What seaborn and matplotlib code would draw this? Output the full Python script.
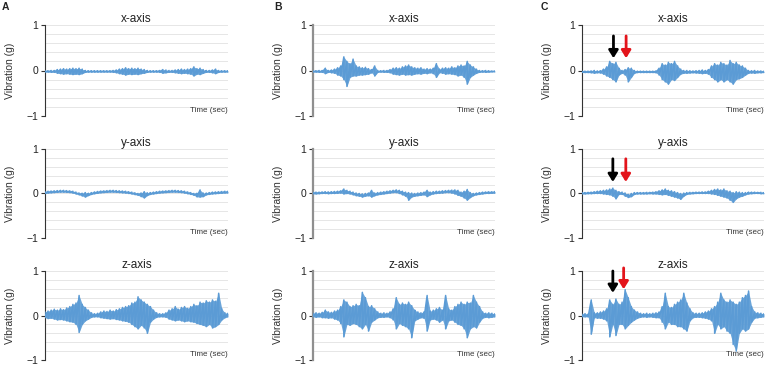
import numpy as np
import pandas as pd
import matplotlib
matplotlib.use("Agg")
import matplotlib.pyplot as plt
import seaborn as sns

# ---------------- data: peak (hi) / trough (lo) readings, 60 windows per trace ----------------
A_x_hi = [-.005,-.005,0,0,.02,.03,.04,.03,.04,.05,.04,.05,.03,0,-.005,-.005,-.005,-.005,-.005,-.005,
          -.005,-.005,0,.01,.03,.04,.06,.04,.05,.04,.05,.03,.02,0,-.005,-.005,-.005,0,.02,.01,
          0,0,.01,.02,.03,.02,.03,.04,.08,.04,.05,.02,0,0,.01,.03,0,-.005,-.005,-.005]
A_x_lo = [-.035,-.035,-.04,-.04,-.06,-.07,-.08,-.07,-.08,-.09,-.08,-.09,-.07,-.04,-.035,-.035,-.035,-.035,-.035,-.035,
          -.035,-.035,-.04,-.05,-.07,-.08,-.1,-.08,-.09,-.08,-.09,-.07,-.06,-.04,-.035,-.035,-.035,-.04,-.06,-.05,
          -.04,-.04,-.05,-.06,-.07,-.06,-.07,-.08,-.12,-.08,-.09,-.06,-.04,-.04,-.05,-.07,-.04,-.035,-.035,-.035]

A_y_hi = [.04,.05,.055,.06,.065,.07,.07,.065,.06,.05,.03,.01,.005,.02,.005,.02,.035,.045,.055,.06,
          .065,.07,.07,.065,.06,.055,.05,.04,.03,.015,0,.01,.04,.015,.02,.03,.04,.05,.055,.06,
          .065,.07,.07,.065,.06,.05,.035,.02,0,.005,.08,.01,.01,.02,.03,.035,.04,.045,.05,.05]
A_y_lo = [0,.01,.015,.02,.025,.03,.03,.025,.02,.01,-.01,-.03,-.055,-.08,-.045,-.02,-.005,.005,.015,.02,
          .025,.03,.03,.025,.02,.015,.01,0,-.01,-.025,-.04,-.07,-.1,-.045,-.02,-.01,0,.01,.015,.02,
          .025,.03,.03,.025,.02,.01,-.005,-.02,-.04,-.075,-.08,-.07,-.03,-.02,-.01,-.005,0,.005,.01,.01]

A_z_hi = [.08,.1,.12,.14,.12,.15,.13,.17,.2,.25,.28,.45,.25,.18,.12,.06,.04,.05,.08,.1,
          .09,.12,.1,.13,.15,.18,.2,.22,.28,.3,.42,.35,.3,.25,.2,.12,.06,.04,.04,.06,
          .12,.15,.2,.14,.18,.2,.16,.2,.25,.22,.3,.28,.33,.3,.35,.32,.5,.15,.06,.05]
A_z_lo = [-.05,-.07,-.06,-.08,-.1,-.09,-.1,-.12,-.14,-.15,-.2,-.38,-.2,-.12,-.08,-.04,-.03,-.03,-.05,-.06,
          -.07,-.08,-.07,-.09,-.1,-.12,-.13,-.15,-.2,-.25,-.3,-.22,-.28,-.4,-.15,-.08,-.04,-.03,-.03,-.04,
          -.08,-.1,-.12,-.1,-.12,-.14,-.12,-.14,-.15,-.18,-.2,-.22,-.25,-.2,-.28,-.25,-.2,-.1,-.05,-.03]

B_x_hi = [-.005,-.005,0,0,.05,0,.01,.03,.06,.1,.3,.2,.15,.25,.1,.08,.06,.07,.04,.02,
          .1,0,-.005,0,0,.02,.05,.06,.05,.08,.1,.12,.08,.06,.05,.06,.03,.04,.03,.05,
          .15,.03,.05,.06,.05,.08,.06,.1,.12,.1,.2,.12,.08,.03,0,-.005,0,-.005,-.01,-.01]
B_x_lo = [-.035,-.035,-.04,-.04,-.07,-.04,-.05,-.06,-.1,-.12,-.2,-.35,-.15,-.12,-.12,-.1,-.1,-.09,-.08,-.05,
          -.12,-.04,-.035,-.04,-.04,-.05,-.08,-.09,-.1,-.08,-.1,-.09,-.1,-.08,-.07,-.08,-.06,-.07,-.05,-.07,
          -.15,-.05,-.06,-.08,-.07,-.08,-.09,-.12,-.1,-.15,-.3,-.15,-.1,-.06,-.04,-.035,-.04,-.035,-.03,-.03]

B_y_hi = [.03,.03,.03,.035,.04,.035,.04,.045,.05,.06,.1,.07,.05,.03,.01,0,-.01,0,.01,.07,
          .01,.02,.03,.04,.05,.06,.07,.08,.07,.05,.03,.02,.01,0,.01,.02,.03,.07,.03,.04,
          .05,.05,.06,.065,.07,.075,.08,.07,.03,.05,.09,.02,0,.01,.02,.03,.035,.04,.04,.045]
B_y_lo = [-.01,-.01,-.005,0,0,-.005,0,0,.005,.01,-.01,0,-.01,-.03,-.05,-.06,-.08,-.06,-.05,-.08,
          -.05,-.03,-.02,-.01,0,.01,.02,.02,0,-.03,-.06,-.15,-.08,-.06,-.05,-.04,-.03,-.07,-.03,-.01,
          0,.005,.01,.02,.02,.01,-.01,-.04,-.06,-.1,-.15,-.09,-.05,-.03,-.02,-.01,0,0,.005,.005]

B_z_hi = [.05,.06,.05,.07,.12,.08,.07,.1,.12,.2,.35,.3,.2,.22,.25,.22,.52,.4,.2,.22,
          .15,.08,.05,.06,.05,.08,.15,.4,.25,.28,.25,.3,.22,.12,.08,.06,.08,.45,.1,.12,
          .15,.18,.12,.45,.15,.12,.2,.25,.3,.25,.3,.28,.45,.3,.2,.08,.05,.06,.05,.04]
B_z_lo = [-.03,-.04,-.03,-.05,-.05,-.06,-.05,-.08,-.1,-.18,-.48,-.2,-.22,-.18,-.2,-.25,-.3,-.2,-.35,-.15,
          -.1,-.05,-.04,-.04,-.03,-.05,-.1,-.3,-.18,-.22,-.25,-.3,-.5,-.12,-.08,-.05,-.06,-.35,-.1,-.08,
          -.1,-.15,-.1,-.3,-.12,-.1,-.15,-.2,-.22,-.3,-.5,-.3,-.25,-.28,-.15,-.06,-.04,-.05,-.04,-.03]

C_x_hi = [-.015,-.015,-.015,-.01,0,-.01,-.005,.03,.08,.2,.15,.18,.05,0,.02,.06,.05,0,-.015,-.015,
          -.015,-.015,-.015,-.015,-.01,.05,.15,.12,.18,.15,.2,.1,.03,0,0,-.005,-.01,-.005,0,.01,
          0,.02,.1,.15,.12,.18,.15,.12,.22,.15,.18,.12,.1,.05,0,-.005,0,-.01,-.01,-.015]
C_x_lo = [-.045,-.045,-.045,-.05,-.06,-.05,-.055,-.08,-.12,-.15,-.2,-.25,-.1,-.06,-.1,-.25,-.15,-.06,-.045,-.045,
          -.045,-.045,-.045,-.045,-.05,-.1,-.2,-.25,-.3,-.2,-.22,-.15,-.08,-.06,-.06,-.055,-.05,-.055,-.06,-.07,
          -.06,-.08,-.15,-.2,-.25,-.2,-.25,-.2,-.25,-.3,-.2,-.18,-.15,-.1,-.06,-.055,-.06,-.05,-.05,-.045]

C_y_hi = [.02,.02,.025,.03,.04,.05,.06,.07,.08,.1,.12,.07,.04,.03,.01,-.02,0,.02,.02,.02,
          .02,.025,.025,.03,.04,.06,.08,.1,.07,.06,.04,.02,0,.01,.02,.025,.025,.03,.03,.035,
          .035,.05,.07,.09,.1,.08,.1,.06,.05,.02,.04,.03,.02,.02,.03,.03,.03,.025,.025,.02]
C_y_lo = [-.01,-.01,-.005,-.005,0,0,0,-.01,-.02,-.03,-.06,-.12,-.02,-.02,-.06,-.09,-.07,-.02,-.01,-.01,
          -.01,-.01,-.005,-.01,-.01,-.02,-.03,-.02,-.04,-.06,-.08,-.1,-.13,-.06,-.02,-.01,-.005,0,0,0,
          0,0,-.01,-.02,-.04,-.06,-.08,-.1,-.15,-.2,-.12,-.08,-.06,-.03,-.01,-.005,0,0,-.005,-.005]

C_z_hi = [.03,.04,.03,.35,.06,.06,.08,.1,.15,.35,.25,.37,.25,.3,.58,.4,.2,.12,.08,.05,
          .04,.05,.04,.05,.06,.08,.2,.5,.2,.18,.25,.3,.35,.5,.28,.15,.06,.05,.05,.06,
          .08,.1,.15,.2,.3,.5,.35,.3,.35,.3,.25,.3,.4,.45,.55,.2,.08,.06,.05,.04]
C_z_lo = [-.03,-.03,-.03,-.42,-.05,-.06,-.06,-.08,-.12,-.48,-.2,-.45,-.2,-.2,-.3,-.22,-.15,-.1,-.06,-.04,
          -.03,-.04,-.03,-.04,-.05,-.05,-.15,-.3,-.15,-.2,-.2,-.25,-.25,-.3,-.35,-.12,-.05,-.04,-.04,-.05,
          -.06,-.08,-.12,-.4,-.2,-.3,-.25,-.35,-.4,-.65,-.8,-.4,-.3,-.35,-.3,-.15,-.06,-.05,-.04,-.03]

panel_letters = ["A", "B", "C"]
axis_names = ["x-axis", "y-axis", "z-axis"]
traces = {
    ("A", 0): (A_x_hi, A_x_lo), ("A", 1): (A_y_hi, A_y_lo), ("A", 2): (A_z_hi, A_z_lo),
    ("B", 0): (B_x_hi, B_x_lo), ("B", 1): (B_y_hi, B_y_lo), ("B", 2): (B_z_hi, B_z_lo),
    ("C", 0): (C_x_hi, C_x_lo), ("C", 1): (C_y_hi, C_y_lo), ("C", 2): (C_z_hi, C_z_lo),
}
# arrows in column C: (window position, start y, end y, colour)
C_arrows = {
    0: [(10.2, 0.76, 0.27, "black"), (14.3, 0.76, 0.27, "#e3141b")],
    1: [(10.0, 0.78, 0.26, "black"), (14.2, 0.78, 0.26, "#e3141b")],
    2: [(10.0, 1.00, 0.51, "black"), (13.5, 1.07, 0.59, "#e3141b")],
}

# ---------------- style / layout ----------------
sns.set_theme(style="white")
plt.rcParams["font.family"] = ["Liberation Sans", "DejaVu Sans"]

BLUE = "#5b9bd5"
W, H = 765, 366
fig = plt.figure(figsize=(W / 100, H / 100), dpi=100)

col_px = {"A": (45, 228), "B": (313, 495), "C": (582, 764)}
spine_style = {"A": ("#333333", 0.8), "B": ("#8f8f8f", 1.6), "C": ("#333333", 0.8)}
letter_px = {"A": 2, "B": 274, "C": 541}
row_px = [(25, 116), (149, 238), (271, 360)]

for L in panel_letters:
    l, r = col_px[L]
    fig.text(letter_px[L] / W, 1 - 7 / H, L, fontsize=7.5, fontweight="bold",
             ha="left", va="center", color="#222222")
    for ri, (t, b) in enumerate(row_px):
        ax = fig.add_axes([l / W, 1 - b / H, (r - l) / W, (b - t) / H])
        hi, lo = traces[(L, ri)]
        vals = [v for pair in zip(hi, lo) for v in pair]
        pos = [i for i in range(len(hi)) for _ in (0, 1)]
        df = pd.DataFrame({"t": pos, "v": vals})
        for g in np.linspace(-1, 1, 11):
            ax.axhline(g, color="#e6e6e6", lw=0.7, zorder=0)
        ax.fill_between(range(len(hi)), lo, hi, color=BLUE, lw=0, alpha=0.9, zorder=2)
        sns.lineplot(data=df, x="t", y="v", ax=ax, color=BLUE, lw=1.1, zorder=3,
                     estimator=None, sort=False)
        ax.set_xlim(0, len(hi) - 1)
        ax.set_ylim(-1, 1)
        ax.set_xticks([])
        ax.set_xlabel("")
        ax.set_yticks([-1, 0, 1])
        ax.set_yticklabels(["\u22121", "0", "1"])
        for s in ["top", "right", "bottom"]:
            ax.spines[s].set_visible(False)
        sc, sw = spine_style[L]
        ax.spines["left"].set_color(sc)
        ax.spines["left"].set_linewidth(sw)
        ax.tick_params(axis="y", left=True, length=3, width=0.8, color="#333333",
                       labelsize=7.5, pad=2, labelcolor="#222222")
        ax.set_ylabel("Vibration (g)", fontsize=7.5, color="#333333")
        ax.yaxis.set_label_coords(-0.165, 0.5)
        ax.set_title(axis_names[ri], fontsize=8.5, pad=2.5, color="#222222")
        ax.text(1.0, 0.06, "Time (sec)", transform=ax.transAxes, ha="right",
                va="center", fontsize=5.8, color="#333333")
        ax.patch.set_alpha(0)
        if L == "C":
            for (xa, y0, y1, c) in C_arrows[ri]:
                ax.annotate("", xy=(xa, y1), xytext=(xa, y0), annotation_clip=False,
                            arrowprops=dict(arrowstyle="-|>,head_width=0.28,head_length=0.45",
                                            lw=2.0, color=c, shrinkA=0, shrinkB=0,
                                            mutation_scale=10), zorder=5)

fig.savefig("out.png", dpi=100)
